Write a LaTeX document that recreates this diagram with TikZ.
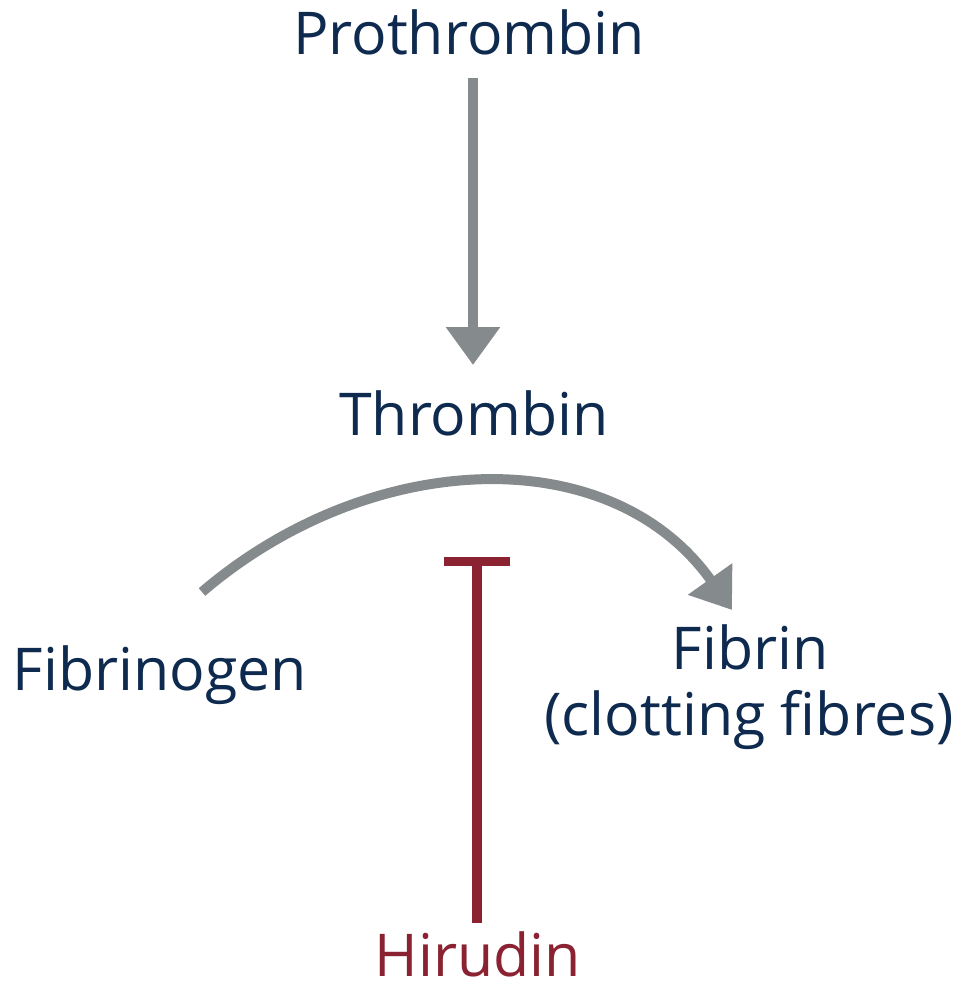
\documentclass[tikz,border=0pt]{standalone}
\usepackage{fontspec}
\setmainfont{Open Sans}
\usetikzlibrary{arrows.meta}
\definecolor{navy}{HTML}{0E2A4F}
\definecolor{arrgray}{HTML}{858A8C}
\definecolor{hirred}{HTML}{8A2232}
\begin{document}
\begin{tikzpicture}[x=0.75pt,y=-0.75pt,
  lbl/.style={text=navy,font=\fontsize{44.25}{49.5}\selectfont,inner sep=0pt,anchor=base},
  conv/.style={draw=arrgray,line width=7.5pt,-{Triangle[length=28.5pt,width=39pt]}},
  inhib/.style={draw=hirred,line width=7.5pt}]
\useasboundingbox (0,0) rectangle (964,984);
\node[lbl] (pro) at (469,55) {Prothrombin};
\node[lbl] (thr) at (474,435) {Thrombin};
\node[lbl] (fbg) at (160,690) {Fibrinogen};
\node[lbl] (fbn) at (750,669) {Fibrin};
\node[lbl] (fbn2) at (749,735) {(clotting fibres)};
\node[lbl,text=hirred] (hir) at (478,976) {Hirudin};
% conversion arrows
\coordinate (a1) at (473,78);
\coordinate (a2) at (473,365);
\draw[conv] (a1) -- (a2);
\coordinate (c1) at (202,592);
\coordinate (c2) at (732,610);
\draw[conv] (c1) .. controls (369,449) and (610,438) .. (c2);
% inhibition
\coordinate (h1) at (477,923);
\coordinate (h2) at (477,561);
\coordinate (b1) at (444,561);
\coordinate (b2) at (510,561);
\draw[inhib] (h1) -- (h2);
\draw[inhib,line width=6.75pt] (b1) -- (b2);
\end{tikzpicture}
\end{document}
